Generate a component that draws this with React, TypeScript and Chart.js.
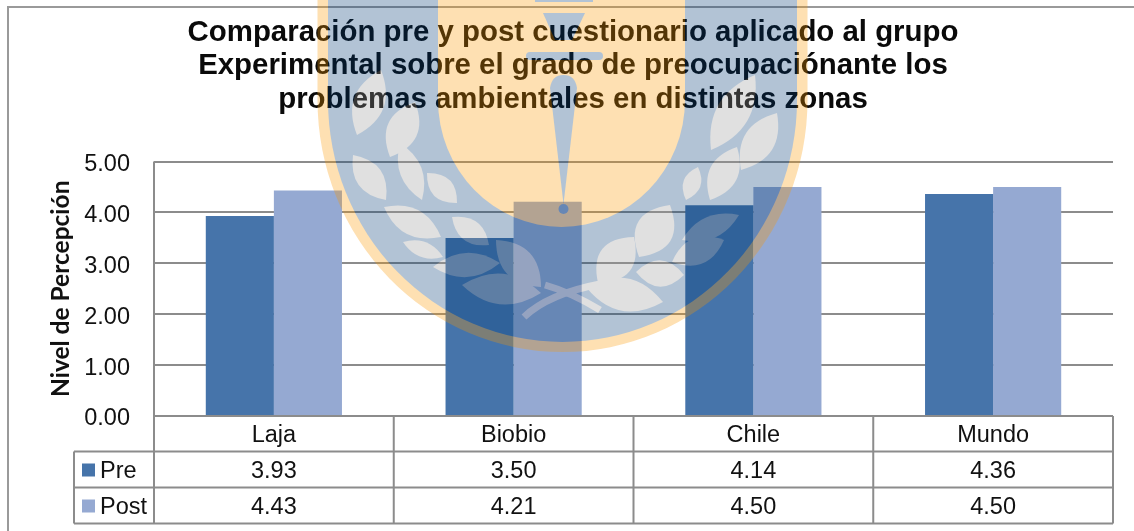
import React, { useEffect, useRef } from "react";
import { Chart, registerables } from "chart.js";

Chart.register(...registerables);

const categories = ["Laja", "Biobio", "Chile", "Mundo"];
const preValues = [3.93, 3.5, 4.14, 4.36];
const postValues = [4.43, 4.21, 4.5, 4.5];
const yTicks = [0, 1, 2, 3, 4, 5];
const titleLines = [
  "Comparación pre y post cuestionario aplicado al grupo",
  "Experimental sobre el grado de preocupaciónante los",
  "problemas ambientales en distintas zonas",
];
const axisTitle = "Nivel de Percepción";

const PRE = "#4674AA";
const POST = "#95A9D2";
const LINE = "#8C8C8C";
const FONT = '"Liberation Sans", Arial, sans-serif';

const CREST_CREAM = "rgb(250,152,0)";
const CREST_BLUE = "rgb(0,58,118)";
const CREST_GREY = "rgb(152,152,152)";

// Decorative crest laid over the chart: [tipX, tipY, baseX, baseY, bulge]
const crestLeaves: number[][] = [
  [381, 70, 357, 135, 14], [415, 102, 390, 157, 14], [400, 143, 422, 200, 10],
  [353, 155, 386, 200, 12], [427, 173, 457, 203, 10], [384, 207, 441, 237, 12],
  [452, 217, 489, 245, 10], [403, 242, 443, 257, 7], [433, 267, 500, 263, 11],
  [462, 285, 541, 293, 14], [496, 240, 541, 287, 14],
  [755, 75, 711, 150, 15], [777, 113, 741, 170, 14], [737, 147, 710, 200, 13],
  [698, 167, 686, 200, 8], [670, 205, 639, 257, 17], [634, 237, 598, 283, 16],
  [739, 215, 682, 240, 10], [724, 240, 672, 262, 12], [684, 275, 636, 272, 12],
  [663, 302, 586, 287, 15],
];

function shield(g: CanvasRenderingContext2D, cx: number, rx: number, ry: number, color: string) {
  g.fillStyle = color;
  g.beginPath();
  g.moveTo(cx - rx, -5);
  g.lineTo(cx - rx, 100);
  g.ellipse(cx, 100, rx, ry, 0, Math.PI, 0, true);
  g.lineTo(cx + rx, -5);
  g.closePath();
  g.fill();
}

function drawCrest(ctx: CanvasRenderingContext2D, w: number, h: number) {
  const off = document.createElement("canvas");
  off.width = w;
  off.height = h;
  const g = off.getContext("2d")!;
  shield(g, 562.5, 245, 252, CREST_CREAM);
  shield(g, 562.5, 234.5, 242, CREST_BLUE);
  shield(g, 561.5, 123.5, 127, CREST_CREAM);

  g.fillStyle = CREST_GREY;
  crestLeaves.forEach(([x1, y1, x2, y2, b]) => {
    const mx = (x1 + x2) / 2;
    const my = (y1 + y2) / 2;
    const dx = x2 - x1;
    const dy = y2 - y1;
    const len = Math.hypot(dx, dy);
    const nx = (-dy / len) * b * 2.2;
    const ny = (dx / len) * b * 2.2;
    g.beginPath();
    g.moveTo(x1, y1);
    g.quadraticCurveTo(mx + nx, my + ny, x2, y2);
    g.quadraticCurveTo(mx - nx, my - ny, x1, y1);
    g.fill();
  });
  g.strokeStyle = CREST_GREY;
  g.lineWidth = 7;
  g.beginPath();
  g.moveTo(524, 317);
  g.quadraticCurveTo(548, 294, 600, 284);
  g.moveTo(545, 285);
  g.quadraticCurveTo(570, 292, 600, 310);
  g.stroke();

  g.fillStyle = CREST_BLUE;
  g.fillRect(535, 0, 58, 2);
  g.beginPath();
  g.moveTo(543, 13);
  g.lineTo(585, 13);
  g.lineTo(572, 40);
  g.lineTo(555, 40);
  g.closePath();
  g.fill();
  g.beginPath();
  g.roundRect(526, 52, 77, 8, 4);
  g.fill();
  g.beginPath();
  g.moveTo(550, 88);
  g.quadraticCurveTo(552, 75, 563.5, 75);
  g.quadraticCurveTo(575, 75, 577, 88);
  g.lineTo(563.5, 204);
  g.closePath();
  g.fill();
  g.beginPath();
  g.arc(563.5, 209, 5, 0, Math.PI * 2);
  g.fill();

  ctx.save();
  ctx.globalAlpha = 0.3;
  ctx.drawImage(off, 0, 0);
  ctx.restore();
}

const frameAndTable = {
  id: "frameAndTable",
  afterDraw(chart: any) {
    const { ctx, scales, width, height, data } = chart;
    const x = scales.x;
    const y = scales.y;
    const base = y.getPixelForValue(0);
    const left = x.left;
    const right = x.right;
    const rowH = [35.5, 36];
    const r1 = base + rowH[0];
    const r2 = r1 + rowH[1];
    const r3 = r2 + rowH[1];
    const legendLeft = 74;
    const cw = (right - left) / categories.length;

    ctx.save();
    ctx.strokeStyle = "#9A9A9A";
    ctx.lineWidth = 2;
    ctx.beginPath();
    ctx.moveTo(8, height);
    ctx.lineTo(8, 7);
    ctx.lineTo(width, 7);
    ctx.stroke();

    ctx.strokeStyle = LINE;
    ctx.beginPath();
    ctx.moveTo(left, y.top);
    ctx.lineTo(left, r3);
    ctx.moveTo(left, base);
    ctx.lineTo(right, base);
    for (let i = 1; i <= categories.length; i++) {
      ctx.moveTo(left + cw * i, base);
      ctx.lineTo(left + cw * i, r3);
    }
    [r1, r2, r3].forEach((ry) => {
      ctx.moveTo(legendLeft, ry);
      ctx.lineTo(right, ry);
    });
    ctx.moveTo(legendLeft, r1);
    ctx.lineTo(legendLeft, r3);
    ctx.stroke();

    ctx.font = `23.5px ${FONT}`;
    ctx.textBaseline = "middle";
    data.datasets.forEach((ds: any, k: number) => {
      const top = k === 0 ? r1 : r2;
      const cy = top + rowH[1] / 2 + 2;
      ctx.fillStyle = ds.backgroundColor;
      ctx.fillRect(82, cy - 8, 13, 13);
      ctx.fillStyle = "#111111";
      ctx.textAlign = "left";
      ctx.fillText(ds.label, 100, cy);
      ctx.textAlign = "center";
      ds.data.forEach((v: number, i: number) => {
        ctx.fillText(v.toFixed(2), x.getPixelForValue(i), cy);
      });
    });
    ctx.restore();

    drawCrest(ctx, width, height);
  },
};

export default function App() {
  const ref = useRef<HTMLCanvasElement>(null);
  useEffect(() => {
    const chart = new Chart(ref.current!, {
      type: "bar",
      data: {
        labels: categories,
        datasets: [
          { label: "Pre", data: preValues, backgroundColor: PRE, categoryPercentage: 0.568, barPercentage: 1 },
          { label: "Post", data: postValues, backgroundColor: POST, categoryPercentage: 0.568, barPercentage: 1 },
        ],
      },
      options: {
        responsive: false,
        animation: false,
        layout: { padding: { left: 33, right: 21, top: 16, bottom: 0 } },
        plugins: {
          legend: { display: false },
          tooltip: { enabled: false },
          title: {
            display: true,
            text: titleLines,
            color: "#0A0A0A",
            font: { family: FONT, size: 29.4, weight: "bold", lineHeight: 1.14 },
            padding: { top: 0, bottom: 45 },
          },
        },
        scales: {
          x: {
            grid: { display: false, drawTicks: false },
            border: { display: false },
            afterFit: (s: any) => {
              s.height = 115;
            },
            ticks: {
              color: "#111111",
              font: { family: FONT, size: 23.5 },
              padding: 5,
              maxRotation: 0,
            },
          },
          y: {
            min: yTicks[0],
            max: yTicks[yTicks.length - 1],
            afterBuildTicks: (s: any) => {
              s.ticks = yTicks.map((value) => ({ value }));
            },
            afterFit: (s: any) => {
              s.width = 121;
            },
            grid: { color: LINE, lineWidth: 2, drawTicks: false },
            border: { display: false },
            ticks: {
              color: "#111111",
              font: { family: FONT, size: 23.5 },
              padding: 24,
              labelOffset: 3,
              callback: (v: any) => Number(v).toFixed(2),
            },
            title: {
              display: true,
              text: axisTitle,
              color: "#111111",
              font: { family: "Lato", size: 24.5, weight: "bold" },
              padding: { top: 13, bottom: 0 },
            },
          },
        },
      },
      plugins: [frameAndTable],
    } as any);
    return () => chart.destroy();
  }, []);
  return (
    <div style={{ position: "absolute", left: 0, top: 0, width: 1134, height: 531 }}>
      <canvas ref={ref} width={1134} height={531} style={{ display: "block" }} />
    </div>
  );
}
